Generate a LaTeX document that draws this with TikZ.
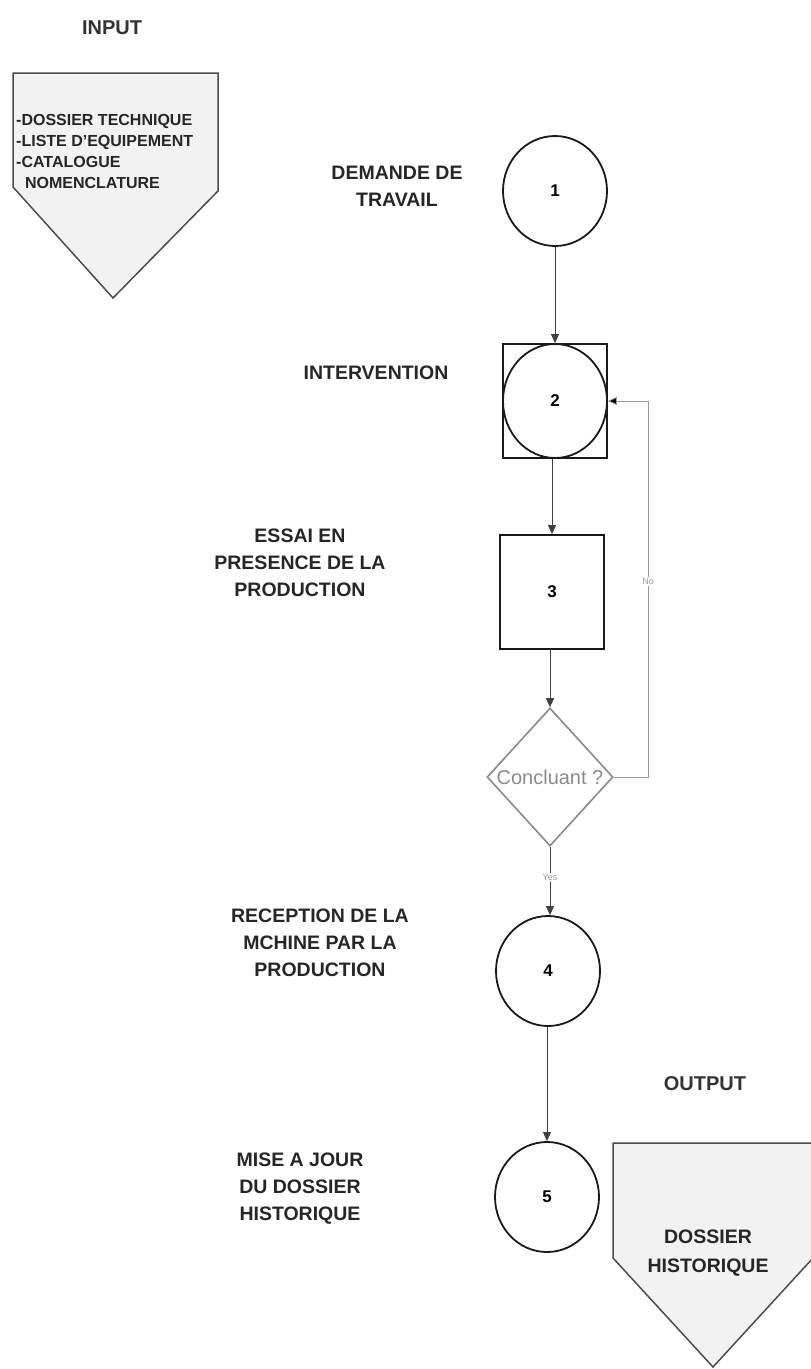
\documentclass[tikz,border=0pt]{standalone}
\usepackage{fontspec}
\setmainfont{Liberation Sans}
\usetikzlibrary{shapes.geometric,arrows.meta}
\definecolor{penfill}{HTML}{F2F2F2}
\definecolor{fbgray}{HTML}{9A9A9A}
\definecolor{diagray}{HTML}{8A8A8A}
\begin{document}
\begin{tikzpicture}[x=1pt,y=-1pt,
  lbl/.style={font=\bfseries\fontsize{19.5}{27}\selectfont, align=center, text=black!85, inner sep=0},
  head/.style={font=\bfseries\fontsize{20}{24}\selectfont, text=black!80, inner sep=0},
  stepcircle/.style={draw=black!90, line width=1.8pt, ellipse, minimum width=104, minimum height=110, inner sep=0, font=\bfseries\fontsize{17}{20}\selectfont},
  stepsquare/.style={draw=black!90, line width=1.8pt, rectangle, minimum width=104, minimum height=114, inner sep=0, font=\bfseries\fontsize{17}{20}\selectfont},
  decision/.style={draw=diagray, line width=1.6pt, diamond, aspect=0.9, minimum width=126, minimum height=138, inner sep=0, text=diagray, font=\fontsize{20}{22}\selectfont},
  flow/.style={draw=black!75, line width=0.9pt, -{Triangle[length=9pt,width=8pt]}},
  fback/.style={draw=fbgray, line width=0.8pt, -{Triangle[length=9pt,width=8pt,fill=black]}},
  tiny/.style={font=\fontsize{9}{10}\selectfont, text=fbgray, fill=white, inner sep=1pt},
  pentagon/.style={draw=black!70, line width=1.5pt, fill=penfill, line join=miter}
]
\useasboundingbox (0,0) rectangle (811,1369);

% INPUT
\node[head] (inhead) at (112,28) {INPUT};
\path[pentagon] (13,73) -- (218,73) -- (218,191) -- (113,298) -- (13,187) -- cycle;
\node[font=\bfseries\fontsize{16}{21}\selectfont, align=left, text=black!85, anchor=north west, inner sep=0] (intext) at (16,114)
  {-DOSSIER TECHNIQUE\\-LISTE D'EQUIPEMENT\\-CATALOGUE\\\ \ NOMENCLATURE};

% OUTPUT
\node[head] (outhead) at (705,1084) {OUTPUT};
\path[pentagon] (813,1143) -- (613,1143) -- (613,1258) -- (713,1367) -- (813,1258);
\node[font=\bfseries\fontsize{19.5}{29}\selectfont, align=center, text=black!85, inner sep=0] (outtext) at (708,1253) {DOSSIER\\HISTORIQUE};

% steps
\node[stepcircle] (n1) at (555,191) {1};
\node[stepsquare] (n2box) at (555,401) {};
\node[stepcircle, minimum height=114] (n2) at (555,401) {2};
\node[stepsquare] (n3) at (552,592) {3};
\node[decision] (dia) at (550,777) {Concluant ?};
\node[stepcircle] (n4) at (548,971) {4};
\node[stepcircle] (n5) at (547,1197) {5};

% labels
\node[lbl] (l1) at (397,186) {DEMANDE DE\\TRAVAIL};
\node[lbl] (l2) at (376,373) {INTERVENTION};
\node[lbl] (l3) at (300,563) {ESSAI EN\\PRESENCE DE LA\\PRODUCTION};
\node[lbl] (l4) at (320,943) {RECEPTION DE LA\\MCHINE PAR LA\\PRODUCTION};
\node[lbl] (l5) at (300,1189) {MISE A JOUR\\DU DOSSIER\\HISTORIQUE};

% connectors
\draw[flow] (n1.south) -- (n1.south |- n2box.north);
\draw[flow] (n3.north |- n2box.south) -- (n3.north);
\draw[flow] (dia.north |- n3.south) -- (dia.north);
\draw[flow] (dia.south) -- node[tiny, pos=0.45] (yes) {Yes} (dia.south |- n4.north);
\draw[flow] (n5.north |- n4.south) -- (n5.north);
\coordinate (fbx) at (648,0);
\draw[fback] (dia.east) -- (dia.east -| fbx) -- node[tiny, pos=0.52] (no) {No} (n2box.east -| fbx) -- (n2box.east);
\end{tikzpicture}
\end{document}
